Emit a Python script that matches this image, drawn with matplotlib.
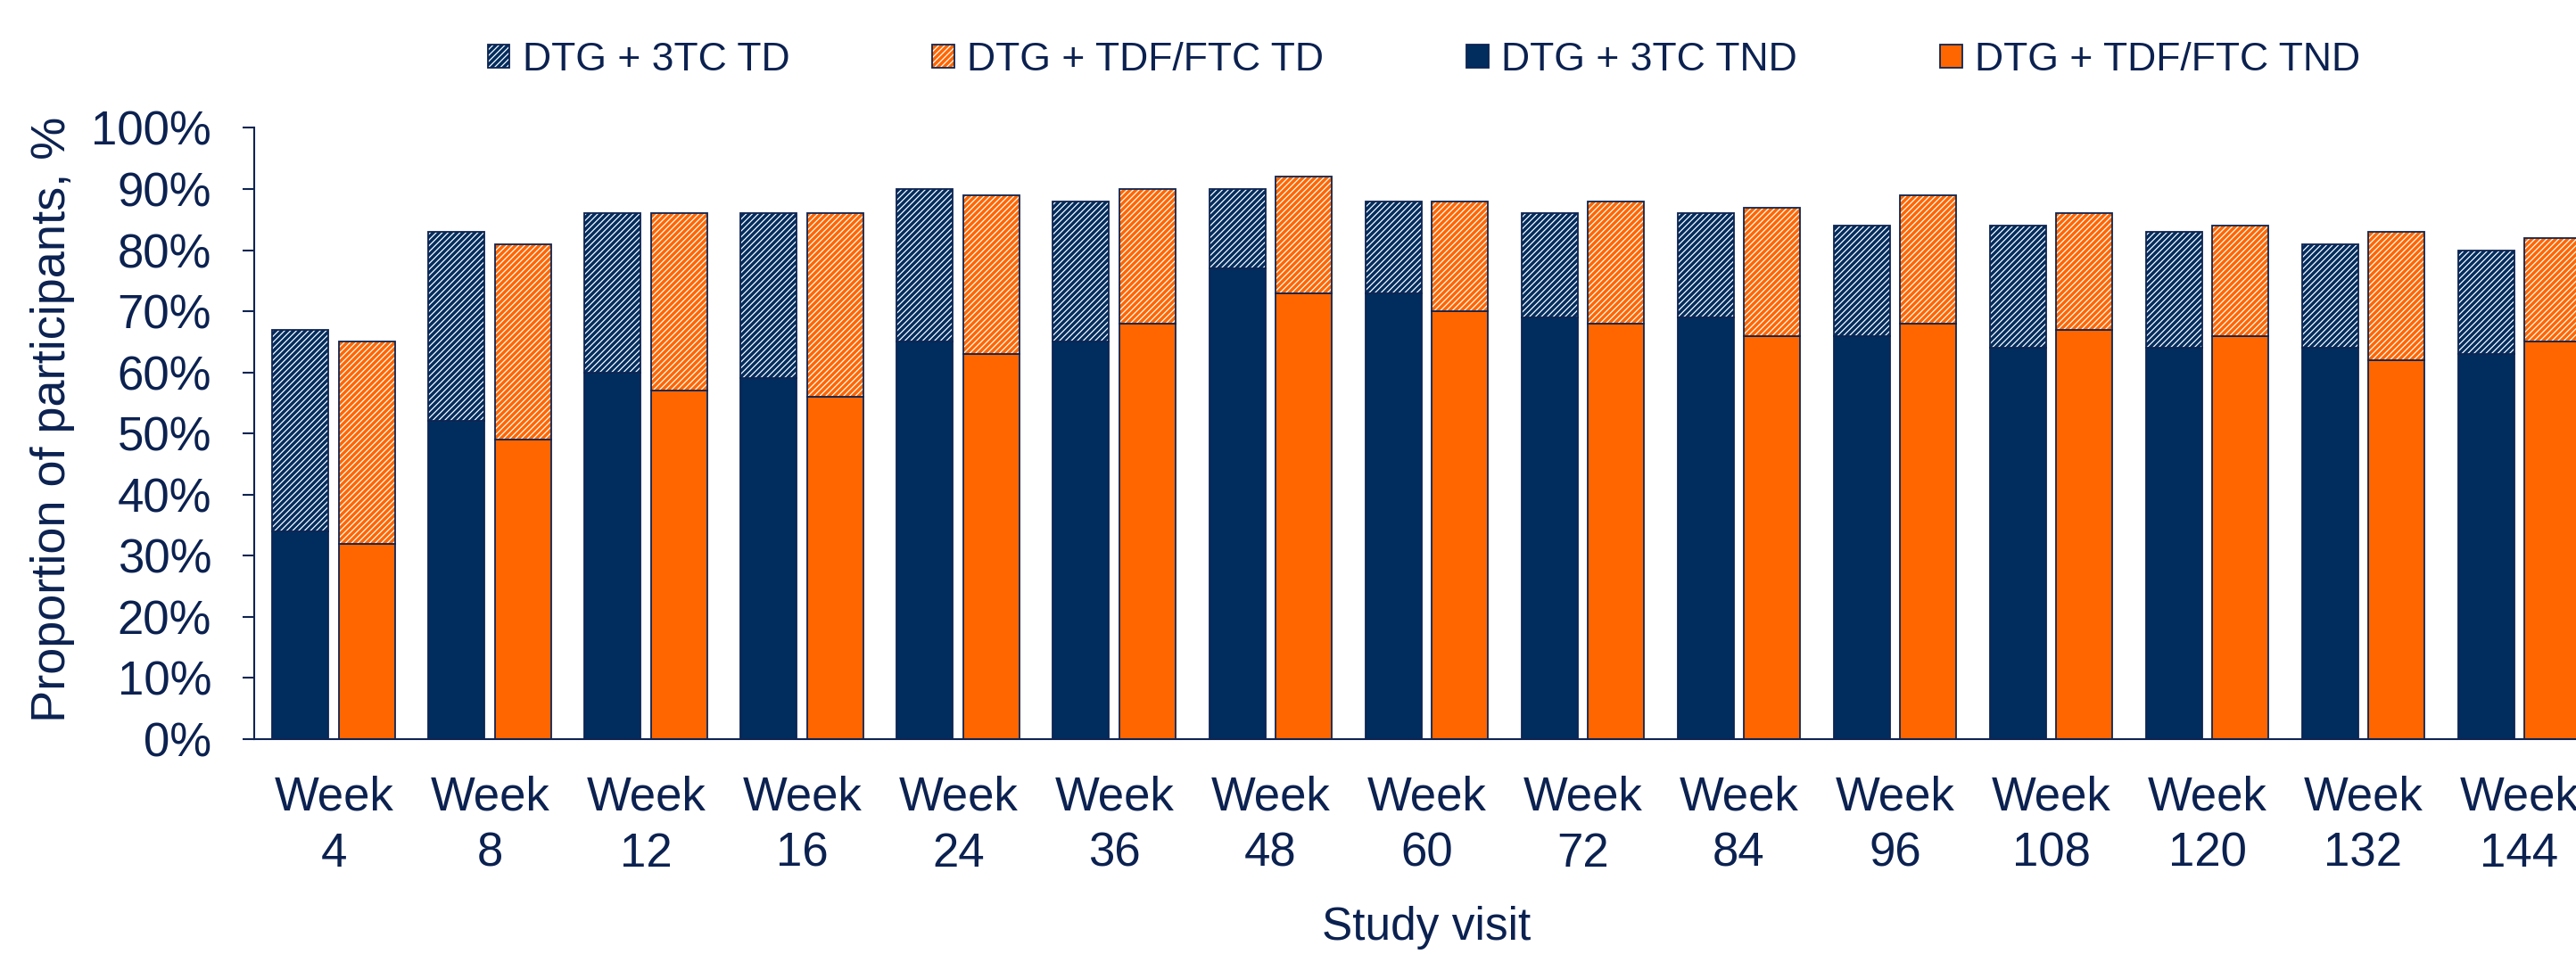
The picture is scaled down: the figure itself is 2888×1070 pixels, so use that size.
import matplotlib
matplotlib.use('Agg')
import matplotlib.pyplot as plt
from matplotlib.patches import Patch
from matplotlib.legend_handler import HandlerTuple
import numpy as np

# ---------------- data (percent of participants) ----------------
weeks = ['4', '8', '12', '16', '24', '36', '48', '60', '72', '84', '96', '108', '120', '132', '144']
dtg_3tc_tnd = [34, 52, 60, 59, 65, 65, 77, 73, 69, 69, 66, 64, 64, 64, 63]
dtg_3tc_total = [67, 83, 86, 86, 90, 88, 90, 88, 86, 86, 84, 84, 83, 81, 80]
dtg_tdf_tnd = [32, 49, 57, 56, 63, 68, 73, 70, 68, 66, 68, 67, 66, 62, 65]
dtg_tdf_total = [65, 81, 86, 86, 89, 90, 92, 88, 88, 87, 89, 86, 84, 83, 82]
legend_labels = ['DTG + 3TC TD', 'DTG + TDF/FTC TD', 'DTG + 3TC TND', 'DTG + TDF/FTC TND']
y_ticks = [0, 10, 20, 30, 40, 50, 60, 70, 80, 90, 100]

# ---------------- style ----------------
NAVY = '#002D5E'
ORANGE = '#FF6600'
EDGE = '#0E2452'
TEXT = '#0B2150'
HATCH = '/////'

plt.rcParams['font.family'] = ['Liberation Sans', 'DejaVu Sans']
plt.rcParams['hatch.linewidth'] = 2.5

fig = plt.figure(figsize=(28.88, 10.70), dpi=100)
ax = fig.add_axes([0.09868, 0.2252, 0.9103, 0.6408])

x = np.arange(len(weeks))
w = 0.36
off = 0.214

tnd3 = np.array(dtg_3tc_tnd)
td3 = np.array(dtg_3tc_total) - tnd3
tndf = np.array(dtg_tdf_tnd)
tdf_ = np.array(dtg_tdf_total) - tndf

for xpos, tnd, td, col in [(x - off, tnd3, td3, NAVY), (x + off, tndf, tdf_, ORANGE)]:
    ax.bar(xpos, tnd, w, color=col, edgecolor=EDGE, linewidth=1.3, zorder=2)
    ax.bar(xpos, td, w, bottom=tnd, color='white', edgecolor=col, hatch=HATCH,
           linewidth=0, zorder=2)
    ax.bar(xpos, td, w, bottom=tnd, fill=False, edgecolor=EDGE, linewidth=1.3, zorder=3)

ax.set_xlim(-0.511, 14.511)
ax.set_ylim(0, 100)

ax.set_xticks(x)
xt = ax.set_xticklabels([f'Week\n{wk}' for wk in weeks])
for t in xt:
    t.set_linespacing(1.35)
ax.set_yticks(y_ticks)
ax.set_yticklabels([f'{v}%' for v in y_ticks])

ax.tick_params(axis='x', length=0, pad=29, labelsize=38, labelcolor=TEXT)
ax.tick_params(axis='y', length=9.4, width=1.5, direction='out', pad=25,
               labelsize=38, labelcolor=TEXT, color=EDGE)

for s in ['top', 'right']:
    ax.spines[s].set_visible(False)
for s in ['left', 'bottom']:
    ax.spines[s].set_color(EDGE)
    ax.spines[s].set_linewidth(1.5)

ax.set_ylabel('Proportion of participants, %', fontsize=39, color=TEXT)
ax.yaxis.set_label_coords(-0.0765, 0.5236)
ax.set_xlabel('Study visit', fontsize=37, color=TEXT, labelpad=24)

# legend
h_td3 = (Patch(facecolor='white', edgecolor=NAVY, hatch=HATCH, linewidth=0),
         Patch(fill=False, edgecolor=EDGE, linewidth=1.3))
h_tdf = (Patch(facecolor='white', edgecolor=ORANGE, hatch=HATCH, linewidth=0),
         Patch(fill=False, edgecolor=EDGE, linewidth=1.3))
h_tnd3 = Patch(facecolor=NAVY, edgecolor=EDGE, linewidth=1.3)
h_tndf = Patch(facecolor=ORANGE, edgecolor=EDGE, linewidth=1.3)

fig.legend([h_td3, h_tdf, h_tnd3, h_tndf], legend_labels, ncol=4, loc='center',
           bbox_to_anchor=(0.5528, 0.937), frameon=False, fontsize=32,
           labelcolor=TEXT, handlelength=0.56, handleheight=0.54,
           handletextpad=0.32, columnspacing=3.6,
           handler_map={tuple: HandlerTuple(ndivide=1, pad=0)})

fig.savefig('out.png', dpi=100)
